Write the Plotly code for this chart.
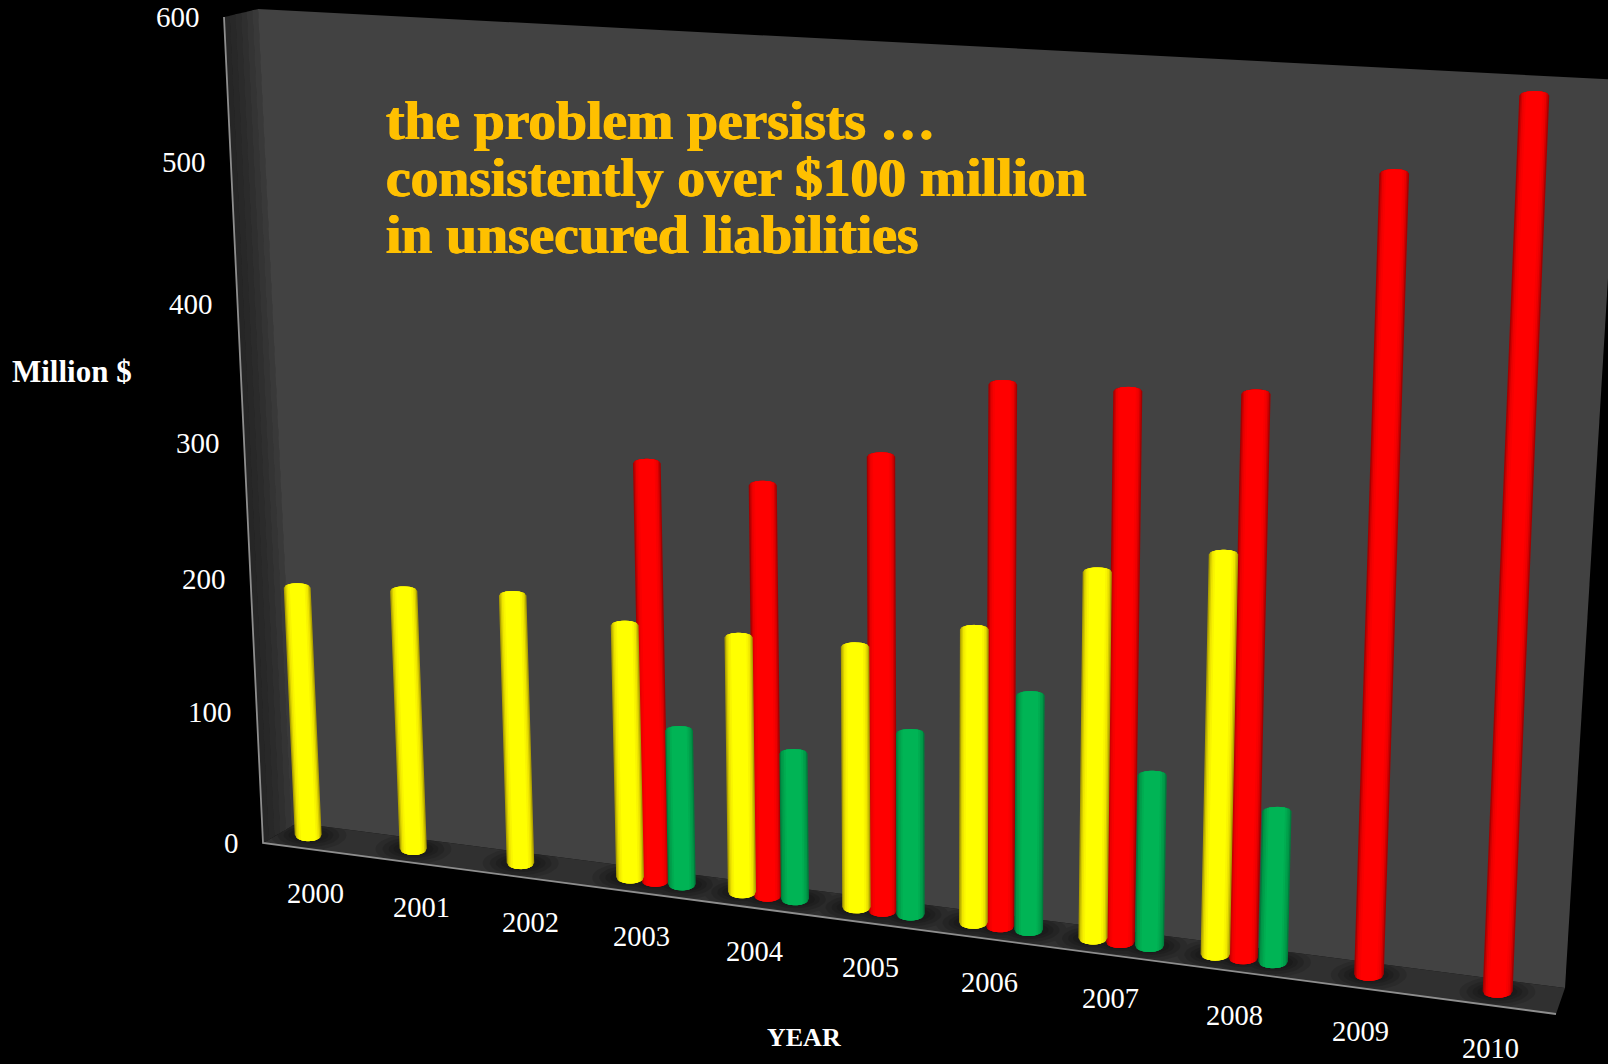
import numpy as np
import plotly.graph_objects as go

# Chart data (million $)
years = [2000, 2001, 2002, 2003, 2004, 2005, 2006, 2007, 2008, 2009, 2010]
yellow_values = [195, 201, 206, 193, 193, 195, 216, 264, 284, None, None]
red_values = [None, None, None, 310, 302, 329, 385, 387, 392, 539, 592]
green_values = [None, None, None, 121, 114, 138, 174, 128, 113, None, None]
value_ticks = [0, 100, 200, 300, 400, 500, 600]
headline = ["the problem persists …", "consistently over $100 million", "in unsecured liabilities"]

W, H = 1608, 1064
VMAX = 600
SLOT = 0.24
YELLOW_SLOT = 0.225


def homography(src_corners):
    """Unit square -> image quad, corners ordered (0,0), (0,1), (1,0), (1,1)."""
    uv = [(0, 0), (0, 1), (1, 0), (1, 1)]
    A, b = [], []
    for (s, t), (x, y) in zip(uv, src_corners):
        A.append([s, t, 1, 0, 0, 0, -s * x, -t * x])
        A.append([0, 0, 0, s, t, 1, -s * y, -t * y])
        b += [x, y]
    return np.append(np.linalg.solve(np.array(A, float), np.array(b, float)), 1).reshape(3, 3)


# Perspective of the plane the columns stand on
PLANE = homography([(306.9, 841), (270.2, 15.8), (1497.4, 997.8), (1535, 78)])
U0, U1 = -SLOT, 10.0


def project(u, v):
    s = (u - U0) / (U1 - U0)
    t = v / VMAX
    p = PLANE @ np.array([s, t, 1.0])
    return p[0] / p[2], p[1] / p[2]


def edge_point(v):
    """Point on the front-left upright of the box for a value."""
    bottom, top = np.array([263.0, 843.0]), np.array([224.0, 17.0])
    vanish = 13147.0
    d0, d1 = vanish - bottom[1], vanish - top[1]
    y = vanish - 1 / (1 / d0 + (1 / d1 - 1 / d0) * v / VMAX)
    x = bottom[0] + (top[0] - bottom[0]) * (bottom[1] - y) / (bottom[1] - top[1])
    return x, y


fig = go.Figure()


def polygon(xs, ys, color):
    fig.add_trace(go.Scatter(x=list(xs), y=list(ys), mode="lines", fill="toself", fillcolor=color,
                             line=dict(width=0), hoverinfo="skip", showlegend=False))


def mix(c0, c1, k):
    return tuple(a + (b - a) * k for a, b in zip(c0, c1))


# Box: floor with soft contact shadows, side wall in graded strips, back wall
floor = [(263, 843), (297, 823), (1565, 988), (1556, 1014)]
polygon(*zip(*floor), "#303030")

for rx, ry in ((38, 15), (31, 12), (25, 9), (20, 7)):
    shadow_x, shadow_y = [], []
    for i in range(len(years)):
        for u, vals in ((i - YELLOW_SLOT, yellow_values), (i, red_values), (i + SLOT, green_values)):
            if vals[i] is None:
                continue
            cx, cy = project(u, 0)
            a = np.linspace(0, 2 * np.pi, 40)
            shadow_x += list(cx + rx * np.cos(a)) + [None]
            shadow_y += list(cy - 6 + ry * np.sin(a)) + [None]
    fig.add_trace(go.Scatter(x=shadow_x, y=shadow_y, mode="lines", fill="toself", fillcolor="rgba(0,0,0,0.12)",
                             line=dict(width=0), hoverinfo="skip", showlegend=False))

side_front = np.array([(224, 17), (263, 843)], float)
side_back = np.array([(258, 9), (297, 823)], float)
for k in range(6):
    k0, k1 = k / 6, (k + 1) / 6
    p = side_front + (side_back - side_front) * k0
    q = side_front + (side_back - side_front) * k1
    g = int(38 + 22 * ((k + 0.5) / 6) ** 1.5)
    polygon([p[0][0], q[0][0] + 0.5, q[1][0] + 0.5, p[1][0]], [p[0][1], q[0][1], q[1][1], p[1][1]], f"rgb({g},{g},{g})")

wall = [(258, 9), (1620, 80), (1565, 988), (297, 823)]
polygon(*zip(*wall), "#424242")

# Box edges
fig.add_trace(go.Scatter(x=[224, 263, 1556], y=[17, 843, 1014], mode="lines", line=dict(color="#8e8e8e", width=1.8),
                         hoverinfo="skip", showlegend=False))


def draw_columns(u_of_index, values, edge, mid, core):
    """Shaded cylinders: nested bands from the dark rim inwards, with rounded ends."""
    bands = [(1.00, edge), (0.90, mix(edge, core, 0.45)), (0.80, mid), (0.68, mix(mid, core, 0.6)), (0.55, core)]
    for tau, col in bands:
        xs, ys = [], []
        for i, val in enumerate(values):
            if val is None:
                continue
            u = u_of_index(i)
            xt, yt = project(u, val)
            xb, yb = project(u, 0)
            half = 13.4 + 1.6 * (i / 10)
            slope = (xt - xb) / (yb - yt)
            side = np.linspace(-tau, tau, 15)
            top_y = yt + 4.5 * (1 - np.sqrt(np.clip(1 - side ** 2, 0, 1)))
            bot_y = yb - 6.5 * (1 - np.sqrt(np.clip(1 - side ** 2, 0, 1)))
            top_x = xb + slope * (yb - top_y) + side * half
            bot_x = xb + slope * (yb - bot_y) + side * half
            xs += list(top_x) + list(bot_x[::-1]) + [top_x[0], None]
            ys += list(top_y) + list(bot_y[::-1]) + [top_y[0], None]
        polygon(xs, ys, "rgb({:.0f},{:.0f},{:.0f})".format(*col))


draw_columns(lambda i: i, red_values, (165, 0, 0), (235, 0, 0), (255, 0, 0))
draw_columns(lambda i: i - YELLOW_SLOT, yellow_values, (175, 160, 0), (240, 230, 0), (255, 255, 0))
draw_columns(lambda i: i + SLOT, green_values, (0, 125, 60), (0, 160, 75), (0, 180, 85))

SERIF = "Liberation Serif"
notes = []


def text(x, y, s, size, color="white", bold=False, anchor="center", shadow=None):
    font = dict(family=SERIF, size=size, color=color)
    if shadow:
        font["shadow"] = shadow
    notes.append(dict(x=x, y=y, xref="x", yref="y", text=f"<b>{s}</b>" if bold else s, showarrow=False,
                      xanchor=anchor, yanchor="middle", font=font))


# Value scale along the front-left upright
for v in value_ticks:
    ex, ey = edge_point(v)
    text(ex - 22.5, ey - 0.5, str(v), 29, anchor="right")

# Year labels under the floor's front edge
for i, year in enumerate(years):
    bx, by = project(i, 0)
    text(bx - 16.5 + 0.95 * i, by + 49.5 + 0.15 * i, str(year), 28.5)

text(72, 371.5, "Million $", 31, bold=True)
text(804, 1037, "YEAR", 26, bold=True)

thick = "0.7px 0 0 #FFC000, -0.7px 0 0 #FFC000"
for line, y in zip(headline, (120, 177, 234)):
    text(384, y, line, 55.5, color="#FFC000", bold=True, anchor="left", shadow=thick)

fig.update_layout(
    width=W, height=H, margin=dict(l=0, r=0, t=0, b=0),
    paper_bgcolor="black", plot_bgcolor="black", showlegend=False,
    xaxis=dict(range=[0, W], visible=False, fixedrange=True),
    yaxis=dict(range=[H, 0], visible=False, fixedrange=True),
    annotations=notes,
)
fig.write_html("out.html", config=dict(displayModeBar=False))
